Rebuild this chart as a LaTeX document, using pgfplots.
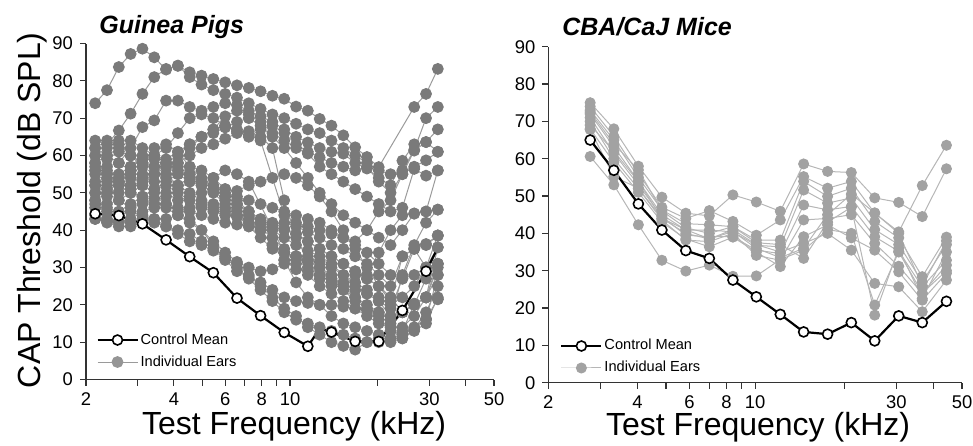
\documentclass[border=0pt]{standalone}
\usepackage{pgfplots}
\pgfplotsset{compat=1.18}
\usepackage{pgfplotstable}
\usepackage{fontspec}
\setmainfont{Liberation Sans}
\definecolor{gpdot}{HTML}{7A7A7A}
\definecolor{gpline}{HTML}{9A9A9A}
\definecolor{mdot}{HTML}{A2A2A2}
\definecolor{mline}{HTML}{B6B6B6}
\definecolor{axcol}{HTML}{333333}

% Guinea pigs: one row per ear, columns = test frequencies (row f)
\pgfplotstableread{
name c0 c1 c2 c3 c4 c5 c6 c7 c8 c9 c10 c11 c12 c13 c14 c15 c16 c17 c18 c19 c20 c21 c22 c23 c24 c25 c26 c27 c28 c29
f 2.15 2.360 2.591 2.844 3.122 3.427 3.762 4.129 4.533 4.976 5.462 5.995 6.581 7.224 7.930 8.705 9.555 10.49 11.51 12.64 13.87 15.23 16.72 18.35 20.14 22.11 24.27 26.64 29.25 32.10
G1 74 77.5 83.7 87.2 88.6 86.3 83 84 82.3 81.4 80.5 79.6 78.8 78.1 77.2 76 75.2 73.1 72 69.8 68 65.4 62.2 59.6 56.9 nan nan 73 76.5 83.2
G2 64 63 66.7 71.2 76.5 81 83.2 84.1 81 79 77.5 76.5 75.5 74 72.5 71 70 68.5 67 66 64 62 60 58 56 55 56 61.5 70 73
G3 62 60 58 62 67.6 69.4 74.7 74.7 73 72 73 74 73.5 72 70.5 69 67 65 63.5 62 61 60.5 58 56.5 54 52 58.6 63 63.6 67
G4 60 62 64 60 58 60 62 66 70 71 70 68 66.5 65 67 68 66 63 61 59.5 58 57 56 57 53 50 55 57 58.7 61
G5 58 56 55 57 59 60 59 61 63 65 67 70.5 72 71 69 66 64 62 60.5 57 55 53 51 49 47 45 46 56.4 54.6 56
G6 55 53 54 56 58 57 55 52 54 53 51 50 49 48 47 46 45 44 43 42 40 38 36 34 31 28 27 35 36 38.5
G7 52 51 50 52 55 53 50 48 49 50 50.5 48 46 44 42 41 40 39 37 35 33 31 29 27 25 22 18 20.3 22 21.5
G8 50 52 54 55 52 50 47 45 46 47 46 45 44 42 40 41.5 42 41 39.5 38 36 35 33 31 28 25 33 35 30 31
G9 48 47 48 46 47 48.5 46 44 42 40 37 34 31.5 30 29 29.5 31 33 33 31.5 30 28 26 24 21 17 11 13.5 16 28
G10 46 45 44 45 44 43 43 44 43 40 36 32 29 27.5 26 24 22 21 20.5 20 20 19.5 19 18.5 18 17 18 20 22 28
G11 43 42 41 41 42 43 41 39 37 36 34.5 32.5 30 27 24 21 18 16 15 14 13 12 11 10 10 11 12 14 16.3 21.5
G12 43 42.5 42 43 45 46 47 46 45 44 43 42 41.5 41 40.5 38 35 31 28 25 23 21 19 17 15 14 18 20.3 22 35.4
G13 60 59 61 60 58 57 58 56 55 53.5 52 51 50.5 52 53 54 55 54 52 49 45 40 35 30 25 21 33 35 36.3 38.6
G14 56 57 58 56 54 55 57 58 60 62 63 64.5 66 66.5 65 62 48 38 32 27 25 26 28 27 25 22 18 20 22 30
G15 62 64 63 60 57 55 55 58 62 65 66 67.5 69 70 68 65 62 58 54 50 47 44 42 40 38 36 40 44.5 45 45.5
G16 50 49 52 54 58 62 63 61 57 54 51 49 47 45 42 38 32 26 22 20 17 15 14 13 12 11 14 17 22 31
G17 57 55 52 50 49 51 53 55 57 56 54 51 48 45 42 40 38 36 34.5 33 31 28 25 23 21 19 27 28 30 35.4
G18 53 54 53 51 48 47 49 51 53 52 50 47 44 41 38 35 34 33 32 30 27 24 21 19 17 15 13 20 27 31
G19 44 43 42.5 42 43 42 41 40 39 37 35 33 31 28 25 22 19 17 14 12 10 9 8 10 11 10 11 13 15 22
G20 47 46 45 47 49 51 52 50 48 46 45 44 43.5 42 40 36 32 29.5 29 28 27 25.5 24 23 22 20 22 25 30 38.6
G21 58 60 62 64 62 60 58 60 63 65 67 68 67 65.5 64 nan 44 42 41 40 39 38 37 40 45 48 55 61.3 63.6 61
G22 52 50 48 50 52 55 58 57 55 53 51 49 47 45 43 42 40.5 39 37 35 33 31 29 28 34 40 44 44.4 45 56
G23 48 50 53 57 60 59 57 55 53 52 54 56 55 53 nan nan 34 33 31.5 30 28 25 22 19 16 13 12 13.5 18 25
G24 56 55 53 52 53 55 54 52 50 48 47 46 45 43 40 36 34 32 30 28 26 24 22 20 18 16 28 36 42 45.5
}\gpraw
\pgfplotstabletranspose[colnames from=name]{\gpdata}{\gpraw}

% CBA/CaJ mice: one row per ear
\pgfplotstableread{
name c0 c1 c2 c3 c4 c5 c6 c7 c8 c9 c10 c11 c12 c13 c14 c15
f 2.77 3.33 4.03 4.84 5.83 7.0 8.41 10.09 12.16 14.58 17.57 21.13 25.35 30.56 36.7 44.3
M1 75 68 58 49.7 45.4 44.7 50.3 48.4 45.9 58.6 56.6 56.3 49.5 48.3 44.5 57.3
M2 74 66 56 47 44 46.1 43.2 39.5 43.6 55.2 52.1 53.9 45.4 40.4 52.8 63.6
M3 73 65 55 46.3 42.6 42.3 41.8 38.2 38.2 53.9 49.9 52.1 43.2 38.8 28.4 39
M4 72 63.2 54 45 40.9 40.9 40.4 36.8 36.4 51.6 48.1 49.5 41 37 27 37
M5 71 61.5 53 44.5 39.5 39.1 39.1 35.5 34.6 47.6 46.3 47.2 39.1 35.2 25.7 32.8
M6 70 60 52 43.6 38.2 37.8 40 34.1 32.8 43.6 44 45 37.3 31.2 23.9 31.5
M7 68 59 51 43 38.5 36.4 39 35 31.1 39.1 42.3 38.8 35.5 29.7 22.1 29.3
M8 67.8 55.2 52.1 44 41 38.5 41 37 35 37.3 40 35.5 26.6 25.7 19 27.5
M9 60.6 53 42.3 32.8 29.9 31.5 28.5 28.6 33 35.5 41 40 20.8 35 24 30
M10 72.5 64 57 46 41.5 40 41.8 37.5 37 33.3 43 47 18.1 36 22.5 35
M11 69 62 53.9 44 40 38.5 40.5 36 33.5 36 45 50.5 45.5 40 26 38
}\mraw
\pgfplotstabletranspose[colnames from=name]{\mdata}{\mraw}

\begin{document}
\begin{tikzpicture}
\begin{axis}[at={(43pt,32.75pt)}, anchor=south west,
  scale only axis, width=204pt, height=168pt,
  xmode=log, xmin=2, xmax=50, ymin=0, ymax=90,
  axis x line=bottom, axis y line=left,
  axis line style={-, draw=axcol, line width=0.6pt},
  tick align=outside, major tick length=3pt,
  tick style={draw=axcol, line width=0.6pt},
  xtick={2,3,4,5,6,7,8,9,10,20,30,40,50},
  xticklabels={2,,4,,6,,8,,10,,30,,50},
  minor xtick={},
  ytick={0,10,...,90},
  tick label style={font=\fontsize{9.2}{11}\selectfont},
  /pgf/number format/assume math mode=true,
  clip=false,
  xlabel={Test Frequency (kHz)},
  ylabel={CAP Threshold (dB SPL)},
  label style={font=\fontsize{16}{19}\selectfont},
  ylabel style={at={(axis description cs:-0.132,0.504)}, anchor=center},
  xlabel style={at={(axis description cs:0.51,-0.165)}, anchor=base, inner sep=0pt},
  title={Guinea Pigs},
  title style={font=\fontsize{12.5}{15}\selectfont\bfseries\itshape, anchor=base west, yshift=-6pt, inner sep=0pt, at={(axis description cs:0.032,1.031)}},
  legend image code/.code={\draw[mark repeat=2,mark phase=2,#1] plot coordinates {(0pt,0pt) (10pt,0pt) (20pt,0pt)};},
  legend cell align=left,
  legend style={draw=none, fill=none, inner sep=0pt, row sep=2pt,
    font=\fontsize{7.3}{8.5}\selectfont,
    nodes={inner sep=1pt, text height=5.5pt, text depth=1.5pt},
    anchor=west, at={(axis description cs:0.0245,0.0848)}},
]
\addlegendimage{black, line width=1.1pt, mark=*, mark size=2.5pt, mark options={fill=white, draw=black, line width=0.8pt}}
\addlegendentry{Control Mean}
\addlegendimage{gpline, line width=0.5pt, mark=*, mark size=2.7pt, mark options={fill=gpdot!80!white, draw=gpdot!80!white}}
\addlegendentry{Individual Ears}
\pgfplotsinvokeforeach{1,...,24}{
  \addplot[forget plot, gpline, line width=0.5pt, mark=*, mark size=2.7pt, mark options={fill=gpdot, draw=gpdot}] table[x=f, y=G#1] {\gpdata};
}
\addplot[forget plot, black, line width=1.1pt, mark=*, mark size=2.5pt, mark options={fill=white, draw=black, line width=0.8pt}, mark indices={1,2,3,4,5,6,7,8,9,10,12,13,14,15,16}] coordinates {
 (2.15,44.4) (2.591,43.9) (3.122,41.7) (3.762,37.4) (4.533,32.9) (5.462,28.6)
 (6.581,21.8) (7.930,17.1) (9.555,12.6) (11.51,8.9) (12.64,13.6) (13.87,12.7)
 (16.72,10.2) (20.14,10.2) (24.27,18.5) (29.25,29.0) (32.10,35.3)};
\end{axis}

\begin{axis}[at={(274.15pt,31.15pt)}, anchor=south west,
  scale only axis, width=206.85pt, height=168pt,
  xmode=log, xmin=2, xmax=50, ymin=0, ymax=90,
  axis x line=bottom, axis y line=left,
  axis line style={-, draw=axcol, line width=0.6pt},
  tick align=outside, major tick length=3pt,
  tick style={draw=axcol, line width=0.6pt},
  xtick={2,3,4,5,6,7,8,9,10,20,30,40,50},
  xticklabels={2,,4,,6,,8,,10,,30,,50},
  minor xtick={},
  ytick={0,10,...,90},
  tick label style={font=\fontsize{9.2}{11}\selectfont},
  /pgf/number format/assume math mode=true,
  clip=false,
  xlabel={Test Frequency (kHz)},
  label style={font=\fontsize{16}{19}\selectfont},
  xlabel style={at={(axis description cs:0.507,-0.156)}, anchor=base, inner sep=0pt},
  title={CBA/CaJ Mice},
  title style={font=\fontsize{12.5}{15}\selectfont\bfseries\itshape, anchor=base west, yshift=-6pt, inner sep=0pt, at={(axis description cs:0.033,1.032)}},
  legend image code/.code={\draw[mark repeat=2,mark phase=2,#1] plot coordinates {(0pt,0pt) (10pt,0pt) (20pt,0pt)};},
  legend cell align=left,
  legend style={draw=none, fill=none, inner sep=0pt, row sep=2pt,
    font=\fontsize{7.3}{8.5}\selectfont,
    nodes={inner sep=1pt, text height=5.5pt, text depth=1.5pt},
    anchor=west, at={(axis description cs:0.028,0.0765)}},
]
\addlegendimage{black, line width=1.1pt, mark=*, mark size=2.5pt, mark options={fill=white, draw=black, line width=0.8pt}}
\addlegendentry{Control Mean}
\addlegendimage{mline, line width=0.5pt, mark=*, mark size=2.5pt, mark options={fill=mdot, draw=mdot}}
\addlegendentry{Individual Ears}
\pgfplotsinvokeforeach{1,...,11}{
  \addplot[forget plot, mline, line width=0.5pt, mark=*, mark size=2.5pt, mark options={fill=mdot, draw=mdot}] table[x=f, y=M#1] {\mdata};
}
\addplot[forget plot, black, line width=1.1pt, mark=*, mark size=2.5pt, mark options={fill=white, draw=black, line width=0.8pt}] coordinates {
 (2.77,65.0) (3.33,56.9) (4.03,47.9) (4.84,40.9) (5.83,35.4) (7.0,33.3)
 (8.41,27.5) (10.09,23.0) (12.16,18.3) (14.58,13.6) (17.57,13.0) (21.13,16.1)
 (25.35,11.2) (30.56,17.9) (36.7,16.1) (44.3,21.8)};
\end{axis}
\pgfresetboundingbox
\path[use as bounding box] (0,0) rectangle (486.5pt,222.5pt);
\end{tikzpicture}
\end{document}
